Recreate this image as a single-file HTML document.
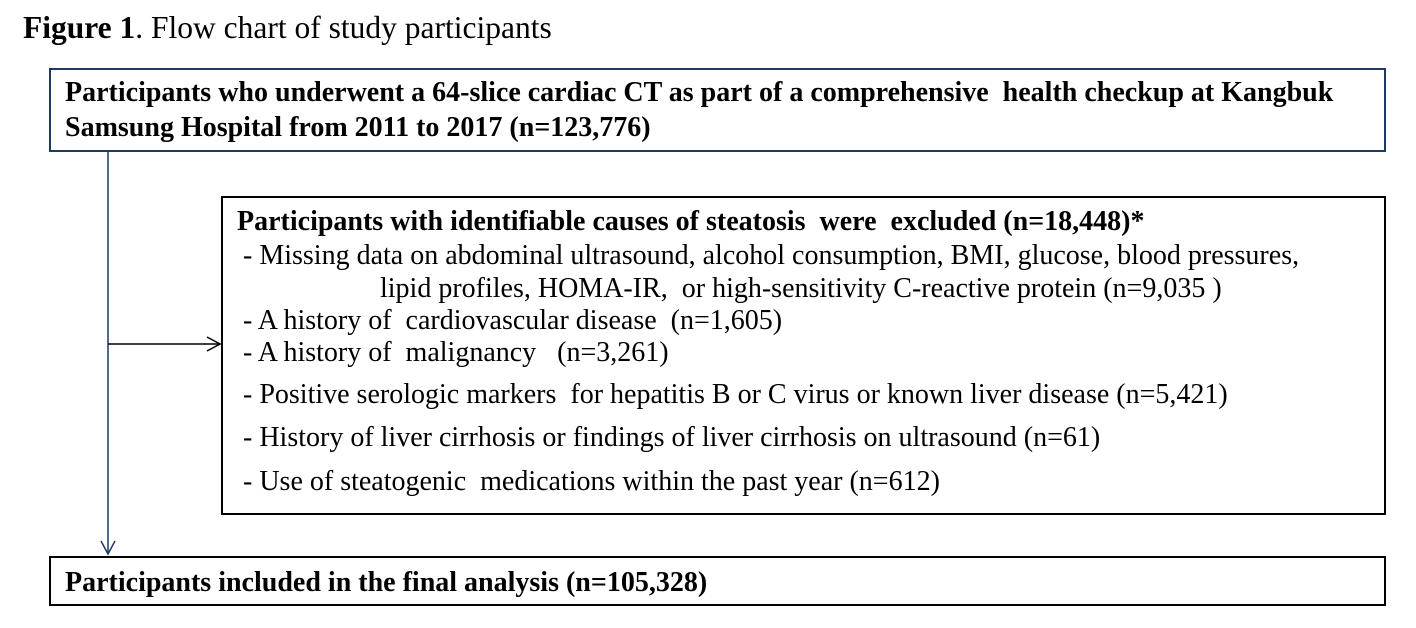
<!DOCTYPE html>
<html><head><meta charset="utf-8"><style>
body{margin:0;width:1416px;height:628px;background:#fff;position:relative;font-family:"Liberation Serif",serif;color:#000;overflow:hidden}
.t{position:absolute;white-space:nowrap;line-height:1}
.b{font-weight:bold}
.box{position:absolute;box-sizing:border-box}
.s{font-size:28px}
</style></head><body>
<div class="t" style="left:23px;top:12px;font-size:31.5px"><b>Figure 1</b>. Flow chart of study participants</div>

<div class="box" style="left:49px;top:68px;width:1337px;height:84px;border:2px solid #1f3864"></div>
<div class="t b s" style="left:65px;top:79px;">Participants who underwent a 64-slice cardiac CT as part of a comprehensive&nbsp; health checkup at Kangbuk</div>
<div class="t b s" style="left:65px;top:114px;">Samsung Hospital from 2011 to 2017 (n=123,776)</div>

<svg style="position:absolute;left:0;top:0" width="1416" height="628">
<line x1="108" y1="152" x2="108" y2="553" stroke="#1f3864" stroke-width="1.5"/>
<polyline points="101,541 108,554 115,541" fill="none" stroke="#1f3864" stroke-width="1.5"/>
<line x1="108" y1="344" x2="220" y2="344" stroke="#000" stroke-width="1.5"/>
<polyline points="207,337 220,344 207,351" fill="none" stroke="#000" stroke-width="1.5"/>
</svg>

<div class="box" style="left:221px;top:196px;width:1165px;height:319px;border:2px solid #000"></div>
<div class="t b s" style="left:237px;top:208px;">Participants with identifiable causes of steatosis&nbsp; were&nbsp; excluded (n=18,448)*</div>
<div class="t s" style="left:243px;top:242px;">- Missing data on abdominal ultrasound, alcohol consumption, BMI, glucose, blood pressures,</div>
<div class="t s" style="left:380px;top:275px;">lipid profiles, HOMA-IR,&nbsp; or high-sensitivity C-reactive protein (n=9,035 )</div>
<div class="t s" style="left:243px;top:307px;">- A history of&nbsp; cardiovascular disease&nbsp; (n=1,605)</div>
<div class="t s" style="left:243px;top:339px;">- A history of&nbsp; malignancy&nbsp;&nbsp; (n=3,261)</div>
<div class="t s" style="left:243px;top:381px;">- Positive serologic markers&nbsp; for hepatitis B or C virus or known liver disease (n=5,421)</div>
<div class="t s" style="left:243px;top:424px;">- History of liver cirrhosis or findings of liver cirrhosis on ultrasound (n=61)</div>
<div class="t s" style="left:243px;top:468px;">- Use of steatogenic&nbsp; medications within the past year (n=612)</div>

<div class="box" style="left:49px;top:556px;width:1337px;height:50px;border:2px solid #000"></div>
<div class="t b s" style="left:65px;top:569px;">Participants included in the final analysis (n=105,328)</div>
</body></html>
